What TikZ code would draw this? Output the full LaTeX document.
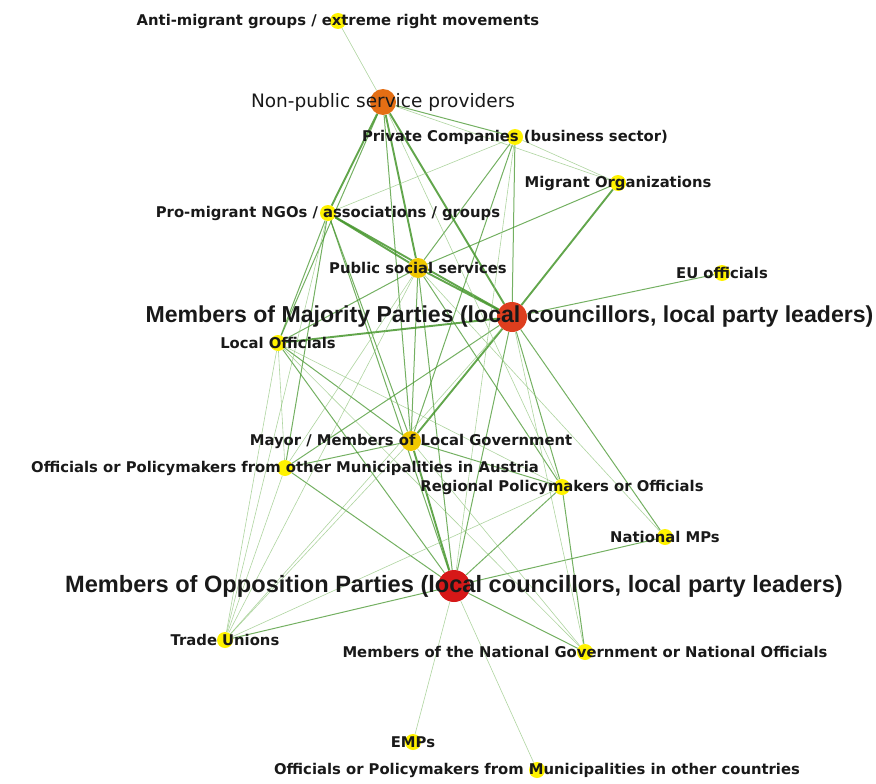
\documentclass[tikz,border=0pt]{standalone}
\usepackage{fontspec}
\setmainfont{DejaVu Sans}
\newfontfamily\arialfont{Liberation Sans}
\usetikzlibrary{backgrounds}

\definecolor{tiegreen}{RGB}{70,150,45}
\definecolor{lightgreen}{RGB}{140,195,120}
\definecolor{dotyellow}{RGB}{255,242,0}
\definecolor{dotgold}{RGB}{240,200,0}
\definecolor{dotorange}{RGB}{228,110,20}
\definecolor{dotred}{RGB}{222,62,30}
\definecolor{dotcrimson}{RGB}{214,24,24}
\definecolor{inkgray}{RGB}{25,25,25}

\tikzset{x=1pt, y=-1pt, node font=\bfseries\fontsize{14.8}{17}\selectfont}
\tikzset{
  actor/.style={circle, inner sep=0pt, minimum size=16pt, fill=dotyellow},
  tag/.style={text=inkgray, inner sep=0pt},
  bigtag/.style={tag, font=\arialfont\bfseries\fontsize{23.6}{26}\selectfont},
  strongtie/.style={tiegreen, line width=1.9pt, opacity=.85},
  midtie/.style={tiegreen, line width=1pt, opacity=.75},
  weaktie/.style={lightgreen, line width=.6pt, opacity=.7},
}

\begin{document}
\begin{tikzpicture}
  \useasboundingbox (0,0) rectangle (876,784);
  % actors
  \node (anti)   [actor] at (338,21) {};
  \node (npsp)   [actor, minimum size=26pt, fill=dotorange] at (383,102) {};
  \node (privco) [actor] at (515,137) {};
  \node (migorg) [actor] at (618,183) {};
  \node (ngos)   [actor] at (328,213) {};
  \node (pss)    [actor, minimum size=20pt, fill=dotgold] at (418,268) {};
  \node (euoff)  [actor] at (722,273) {};
  \node (major)  [actor, minimum size=30pt, fill=dotred] at (512,317) {};
  \node (locoff) [actor] at (278,343) {};
  \node (mayor)  [actor, minimum size=20pt, fill=dotgold] at (411,441) {};
  \node (othaut) [actor] at (285,468) {};
  \node (region) [actor] at (562,487) {};
  \node (natmp)  [actor] at (665,537) {};
  \node (oppos)  [actor, minimum size=32pt, fill=dotcrimson] at (454,586) {};
  \node (trade)  [actor] at (225,640) {};
  \node (natgov) [actor] at (585,652) {};
  \node (emps)   [actor] at (413,742) {};
  \node (othcty) [actor] at (537,770) {};

  % ties
  \begin{pgfonlayer}{background}
    \foreach \a/\b in {npsp/ngos, npsp/major, npsp/pss, ngos/pss, ngos/major, pss/major,
      major/locoff, major/mayor, mayor/oppos, major/migorg}
      \draw [strongtie] (\a) -- (\b);
    \foreach \a/\b in {npsp/privco, privco/major, privco/pss, major/euoff, major/oppos,
      major/region, major/natmp, major/othaut, oppos/natgov, oppos/natmp, oppos/region,
      oppos/trade, oppos/othaut, oppos/locoff, oppos/pss, oppos/ngos, mayor/region,
      mayor/othaut, mayor/pss, mayor/locoff, ngos/locoff, ngos/othaut, pss/locoff,
      pss/region, npsp/mayor, region/natgov, privco/mayor, migorg/pss, npsp/locoff,
      ngos/mayor}
      \draw [midtie] (\a) -- (\b);
    \foreach \a/\b in {anti/npsp, npsp/migorg, privco/migorg, privco/ngos, trade/locoff,
      trade/ngos, trade/othaut, trade/pss, trade/mayor, trade/major, trade/region,
      oppos/emps, oppos/othcty, major/natgov, mayor/natgov, pss/natmp, locoff/othaut,
      privco/oppos, locoff/region, npsp/region, pss/othaut, locoff/natgov}
      \draw [weaktie] (\a) -- (\b);
  \end{pgfonlayer}

  % tags
  \node (antiT)   [tag] at (anti)   {Anti-migrant groups / extreme right movements};
  \node (npspT)   [tag, font=\mdseries\fontsize{18.5}{20}\selectfont] at (npsp) {Non-public service providers};
  \node (privcoT) [tag] at (privco) {Private Companies (business sector)};
  \node (migorgT) [tag] at (migorg) {Migrant Organizations};
  \node (ngosT)   [tag] at (ngos)   {Pro-migrant NGOs / associations / groups};
  \node (pssT)    [tag] at (pss)    {Public social services};
  \node (euoffT)  [tag] at (euoff)  {EU officials};
  \node (majorT)  [bigtag, font=\arialfont\bfseries\fontsize{23.1}{26}\selectfont, xshift=-2.5pt] at (major) {Members of Majority Parties (local councillors, local party leaders)};
  \node (locoffT) [tag] at (locoff) {Local Officials};
  \node (mayorT)  [tag] at (mayor)  {Mayor / Members of Local Government};
  \node (othautT) [tag] at (othaut) {Officials or Policymakers from other Municipalities in Austria};
  \node (regionT) [tag] at (region) {Regional Policymakers or Officials};
  \node (natmpT)  [tag] at (natmp)  {National MPs};
  \node (opposT)  [bigtag] at (oppos) {Members of Opposition Parties (local councillors, local party leaders)};
  \node (tradeT)  [tag] at (trade)  {Trade Unions};
  \node (natgovT) [tag] at (natgov) {Members of the National Government or National Officials};
  \node (empsT)   [tag] at (emps)   {EMPs};
  \node (othctyT) [tag] at (othcty) {Officials or Policymakers from Municipalities in other countries};
\end{tikzpicture}
\end{document}
